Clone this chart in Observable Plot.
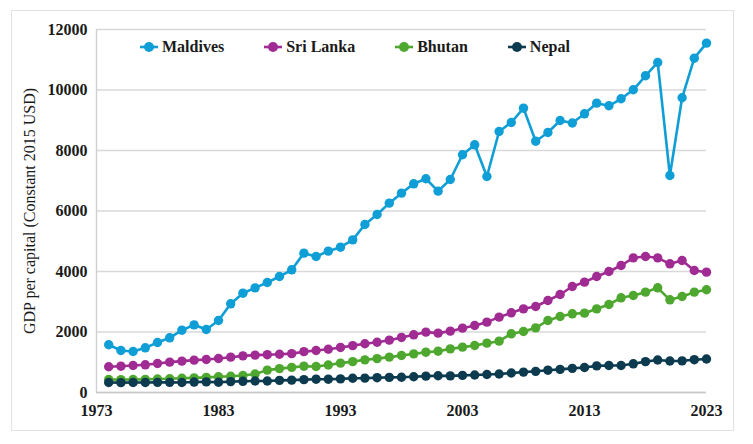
<!DOCTYPE html>
<html>
<head>
<meta charset="utf-8">
<script src="https://cdn.jsdelivr.net/npm/d3@7"></script>
<script src="https://cdn.jsdelivr.net/npm/@observablehq/plot@0.6"></script>
<style>
  html, body { margin: 0; padding: 0; background: #fff; }
  #wrap { position: relative; width: 753px; height: 444px; font-family: "Liberation Serif", "Times New Roman", serif; }
  #frame { position: absolute; left: 11px; top: 10px; width: 721px; height: 419px; border: 1.5px solid #e2e2e2; pointer-events: none; }
  #legend { position: absolute; left: 140px; top: 36px; display: flex; gap: 40px; font-weight: bold; font-size: 16px; color: #1a1a1a; }
  #legend .item { display: flex; align-items: center; gap: 4px; height: 22px; }
  #legend svg { display: block; }
</style>
</head>
<body>
<div id="wrap">
  <div id="chart"></div>
  <div id="frame"></div>
  <div id="legend"></div>
</div>
<script>
// GDP per capita, constant 2015 USD, 1974–2023
const years = d3.range(1974, 2024);
const countries = ["Maldives", "Sri Lanka", "Bhutan", "Nepal"];
const colors = ["#0f9ed5", "#a02b93", "#4ea72e", "#0c3a4f"];

const maldives = [1577, 1388, 1355, 1477, 1653, 1808, 2060, 2237, 2083, 2380,
  2932, 3283, 3460, 3637, 3835, 4056, 4606, 4496, 4672, 4804,
  5047, 5554, 5885, 6259, 6590, 6899, 7065, 6656, 7042, 7858,
  8188, 7141, 8629, 8926, 9399, 8308, 8596, 8992, 8910, 9213,
  9565, 9478, 9710, 10007, 10470, 10910, 7174, 9743, 11052, 11548];
const sriLanka = [850, 870, 893, 915, 959, 1003, 1036, 1069, 1091, 1124,
  1168, 1212, 1234, 1250, 1265, 1285, 1350, 1390, 1430, 1490,
  1550, 1610, 1660, 1730, 1820, 1907, 1995, 1962, 2028, 2127,
  2215, 2325, 2491, 2634, 2766, 2843, 3041, 3240, 3505, 3648,
  3835, 4000, 4199, 4452, 4496, 4452, 4254, 4364, 4033, 3978];
const bhutan = [430, 425, 430, 435, 445, 455, 470, 485, 500, 520,
  535, 560, 610, 740, 790, 830, 870, 860, 910, 970,
  1020, 1080, 1120, 1170, 1223, 1278, 1333, 1366, 1443, 1499,
  1554, 1631, 1697, 1940, 2017, 2138, 2380, 2513, 2601, 2623,
  2766, 2909, 3130, 3207, 3317, 3461, 3064, 3174, 3317, 3395];
const nepal = [330, 325, 330, 330, 335, 335, 330, 345, 350, 340,
  360, 370, 380, 380, 400, 410, 425, 440, 440, 450,
  470, 475, 490, 500, 505, 520, 540, 555, 550, 565,
  580, 595, 610, 645, 675, 700, 738, 765, 798, 826,
  880, 893, 893, 948, 1020, 1075, 1040, 1047, 1085, 1108];

const xTicks = [1973, 1983, 1993, 2003, 2013, 2023];
const yTicks = [0, 2000, 4000, 6000, 8000, 10000, 12000];
const yTitle = "GDP per capital (Constant 2015 USD)";

const seriesValues = [maldives, sriLanka, bhutan, nepal];
const rows = countries.flatMap((c, i) =>
  years.map((year, j) => ({country: c, year, value: seriesValues[i][j]})));

// one line + its markers per country, so later series sit on top
const seriesMarks = countries.flatMap(c => {
  const d = rows.filter(r => r.country === c);
  return [
    Plot.line(d, {x: "year", y: "value", stroke: "country", strokeWidth: 2.6, curve: "linear"}),
    Plot.dot(d, {x: "year", y: "value", fill: "country", r: 4.7, stroke: "none"})
  ];
});

const chart = Plot.plot({
  width: 753,
  height: 444,
  marginLeft: 96,
  marginRight: 47,
  marginTop: 29,
  marginBottom: 52,
  style: {fontFamily: "'Liberation Serif', 'Times New Roman', serif", background: "transparent", color: "#1a1a1a"},
  x: {domain: [1973, 2023]},
  y: {domain: [0, 12000]},
  color: {domain: countries, range: colors},
  marks: [
    Plot.gridY(yTicks, {stroke: "#d9d9d9", strokeOpacity: 1, strokeWidth: 1.4}),
    Plot.ruleX([1973], {stroke: "#d0d0d0", strokeWidth: 1.4}),
    Plot.ruleY([0], {stroke: "#c8c8c8", strokeWidth: 1.4}),
    Plot.axisX(xTicks, {tickSize: 0, tickPadding: 12, tickFormat: d => String(d), fontSize: 16, fontWeight: "bold", label: null}),
    Plot.axisY(yTicks, {tickSize: 0, tickPadding: 9, tickFormat: d => String(d), fontSize: 16, fontWeight: "bold", label: null}),
    Plot.text([yTitle], {frameAnchor: "left", textAnchor: "middle", rotate: -90, dx: -67, fontSize: 16, fill: "#1a1a1a"}),
    ...seriesMarks
  ]
});
document.getElementById("chart").appendChild(chart);

// legend: line-and-marker swatch followed by the country name
const legend = d3.select("#legend");
countries.forEach((c, i) => {
  const item = legend.append("div").attr("class", "item");
  const s = item.append("svg").attr("width", 18).attr("height", 12);
  s.append("line").attr("x1", 0).attr("x2", 18).attr("y1", 6).attr("y2", 6)
    .attr("stroke", colors[i]).attr("stroke-width", 2.6);
  s.append("circle").attr("cx", 9).attr("cy", 6).attr("r", 5).attr("fill", colors[i]);
  item.append("span").text(c);
});
</script>
</body>
</html>
